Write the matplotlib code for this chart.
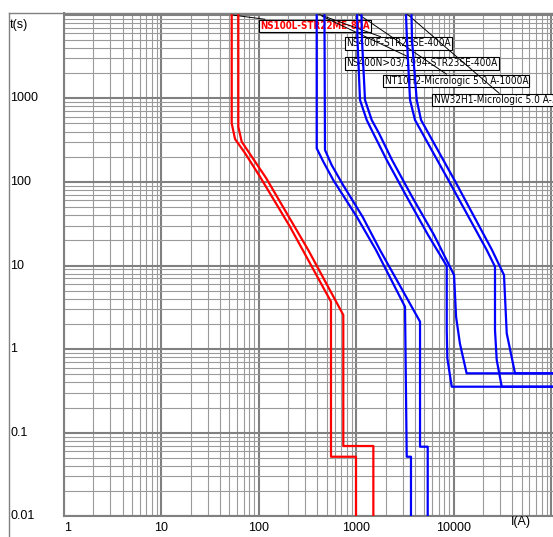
import matplotlib
matplotlib.use("Agg")
import matplotlib.pyplot as plt
from matplotlib.lines import Line2D
from matplotlib import font_manager
from matplotlib.font_manager import FontProperties

# --- curve data (current A, time s) ---
red_min_I = [52.7, 52.7, 57, 72, 103, 209, 551, 551, 995, 995]
red_min_t = [2e4, 502, 326, 222, 115, 29.1, 3.69, 0.0516, 0.0516, 0.005]
red_max_I = [61.6, 61.6, 66.7, 119, 322, 737, 737, 1500, 1500]
red_max_t = [2e4, 457, 303, 111, 15.3, 2.56, 0.0693, 0.0693, 0.005]

b1_min_I = [393, 393, 459, 582, 1012, 1597, 3170, 3300, 3650, 3650]
b1_min_t = [2e4, 252, 175, 105, 38.4, 15.3, 3.21, 0.0516, 0.0516, 0.005]
b1_max_I = [471, 478, 560, 732, 1161, 1755, 4520, 4520, 5420, 5420]
b1_max_t = [2e4, 241, 159, 92, 38.4, 15.3, 2.13, 0.068, 0.068, 0.005]

b2_min_I = [1012, 1031, 1094, 1282, 1498, 2056, 3300, 5460, 8500, 8500, 8620, 9560, 2e5]
b2_min_t = [2e4, 4980, 955, 550, 381, 183, 66.5, 23.2, 9.86, 1.69, 0.776, 0.355, 0.355]
b2_max_I = [1120, 1147, 1231, 1443, 1714, 2331, 3741, 6290, 10100, 10600, 11600, 13600, 2e5]
b2_max_t = [2e4, 4980, 955, 550, 381, 183, 66.5, 23.2, 7.69, 2.44, 1.17, 0.513, 0.513]

b3_min_I = [3170, 3320, 3570, 4015, 9185, 21900, 26600, 26600, 27700, 31200, 2e5]
b3_min_t = [2e4, 4980, 955, 550, 97, 15.3, 9.68, 1.69, 0.742, 0.355, 0.355]
b3_max_I = [3650, 3740, 4180, 4630, 10600, 24800, 32900, 35100, 42700, 2e5]
b3_max_t = [2e4, 4980, 955, 550, 97, 15.3, 7.69, 1.545, 0.513, 0.513]

# labels: text, colour, leader start (I, t), text position (I, t)
labels = ["NS100L-STR22ME-80A", "NS400F-STR23SE-400A", "NS400N>03/1994-STR23SE-400A",
          "NT10H2-Micrologic 5.0 A-1000A", "NW32H1-Micrologic 5.0 A-3200A"]
label_colors = ["red", "black", "black", "black", "black"]
leader_I = [54.3, 405, 445, 1043, 3323]
leader_t = [9900, 10200, 9600, 10200, 10200]
text_I = [104, 795, 795, 1953, 6217]
text_t = [7360, 4550, 2620, 1618, 955]

xticks = [1, 10, 100, 1000, 10000]
xtick_labels = ["1", "10", "100", "1000", "10000"]
yticks = [0.01, 0.1, 1, 10, 100, 1000]
ytick_labels = ["0.01", "0.1", "1", "10", "100", "1000"]

plt.rcParams['font.family'] = ['Liberation Sans', 'DejaVu Sans']


def condensed_font(bold=False, size=7.2):
    # a condensed face for the curve labels, if one is installed
    want = "DejaVuSansCondensed-Bold.ttf" if bold else "DejaVuSansCondensed.ttf"
    for f in font_manager.fontManager.ttflist:
        if f.fname.endswith(want):
            return FontProperties(fname=f.fname, size=size)
    return FontProperties(family="DejaVu Sans", size=size * 0.9,
                          weight="bold" if bold else "normal")


fig = plt.figure(figsize=(5.53, 5.37), dpi=100)
ax = fig.add_axes([64 / 553, 20.7 / 537, 489 / 553, 503.6 / 537])
ax.set_xscale("log")
ax.set_yscale("log")
ax.set_xlim(1, 1.048e5)
ax.set_ylim(0.01, 10570)

ax.grid(which="major", color="#808080", lw=1.5)
ax.grid(which="minor", color="#9a9a9a", lw=0.8)
ax.set_axisbelow(True)
ax.tick_params(which="both", length=0, labelleft=False, labelbottom=False)
for s in ["top", "right"]:
    ax.spines[s].set_visible(False)
for s in ["left", "bottom"]:
    ax.spines[s].set_color("#808080")
    ax.spines[s].set_linewidth(1.5)

# labels (below curves), each leader drawn over the earlier boxes
for i, (txt, col, lx, ly, tx, ty) in enumerate(zip(labels, label_colors, leader_I,
                                                    leader_t, text_I, text_t)):
    fp = condensed_font(bold=(col == "red"), size=7.0 if col == "red" else 7.2)
    ax.annotate(txt, xy=(lx, ly), xytext=(tx, ty), ha="left", va="center",
                color=col, fontproperties=fp,
                bbox=dict(boxstyle="square,pad=0.12", fc="white", ec="black", lw=0.8),
                arrowprops=dict(arrowstyle="-", color="black", lw=0.7,
                                shrinkA=0, shrinkB=0),
                zorder=2.5 + 0.1 * i, annotation_clip=False)

lw = 1.6
ax.plot(red_min_I, red_min_t, color="#ff0000", lw=lw, zorder=4)
ax.plot(red_max_I, red_max_t, color="#ff0000", lw=lw, zorder=4)
for I, t in [(b1_min_I, b1_min_t), (b1_max_I, b1_max_t), (b2_min_I, b2_min_t),
             (b2_max_I, b2_max_t), (b3_min_I, b3_min_t), (b3_max_I, b3_max_t)]:
    ax.plot(I, t, color="#0000ff", lw=lw, zorder=4)

# tick labels as text
ytr = ax.get_yaxis_transform()
for v, s in zip(yticks, ytick_labels):
    ax.text(-0.1104, v, s, transform=ytr, ha="left", va="center", fontsize=9, clip_on=False)
ax.text(-0.1104, 0.9756, "t(s)", transform=ax.transAxes, ha="left", va="center",
        fontsize=9, clip_on=False)
xtr = ax.get_xaxis_transform()
for v, s in zip(xticks, xtick_labels):
    xv = v * 1.1 if v == 1 else v
    ax.text(xv, -0.0238, s, transform=xtr, ha="center", va="center", fontsize=9, clip_on=False)
ax.text(49500, -0.012, "I(A)", transform=xtr, ha="center", va="center", fontsize=9, clip_on=False)

# outer frame (top and left edges)
fx = 9 / 553
fy = 1 - 12.7 / 537
fig.add_artist(Line2D([fx, fx], [0, fy], color="#808080", lw=1.0))
fig.add_artist(Line2D([fx, 1], [fy, fy], color="#808080", lw=1.0))

fig.savefig("out.png", dpi=100)
